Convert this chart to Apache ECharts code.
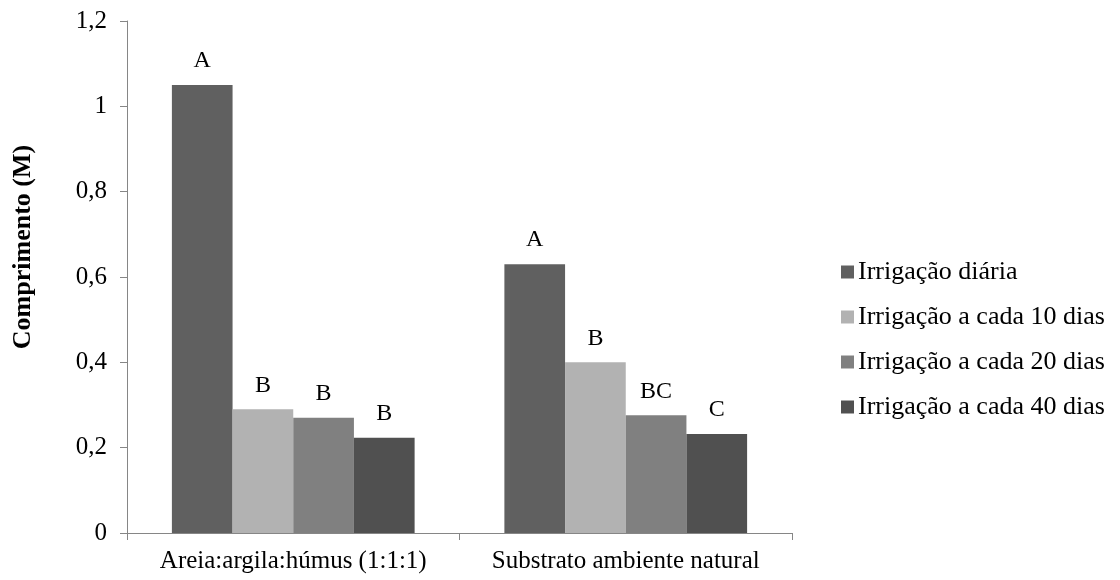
<!DOCTYPE html>
<html><head><meta charset="utf-8">
<script src="https://cdn.jsdelivr.net/npm/echarts@6/dist/echarts.min.js"></script>
<style>html,body{margin:0;padding:0;background:#fff}#c{width:1120px;height:580px}</style>
</head><body><div id="c"></div>
<script>
const categories = ['Areia:argila:húmus (1:1:1)', 'Substrato ambiente natural'];
const seriesNames = ['Irrigação diária', 'Irrigação a cada 10 dias', 'Irrigação a cada 20 dias', 'Irrigação a cada 40 dias'];
const diaria = [1.05, 0.63];
const cada10 = [0.29, 0.40];
const cada20 = [0.27, 0.276];
const cada40 = [0.223, 0.232];
const letters = [['A', 'A'], ['B', 'B'], ['B', 'BC'], ['B', 'C']];
const colors = ['#606060', '#b2b2b2', '#808080', '#505050'];
const yTicks = [0, 0.2, 0.4, 0.6, 0.8, 1, 1.2];

const values = [diaria, cada10, cada20, cada40];
const font = '"Liberation Serif", "Times New Roman", serif';
const chart = echarts.init(document.getElementById('c'));
chart.setOption({
  animation: false,
  textStyle: { fontFamily: font },
  grid: { left: 127, right: 328, top: 21, bottom: 47 },
  legend: {
    orient: 'vertical', left: 841, top: 259, itemGap: 19, padding: 0,
    itemWidth: 13, itemHeight: 13, icon: 'rect',
    textStyle: { fontFamily: font, fontSize: 26, lineHeight: 26, color: '#000', padding: [0, 0, 0, -1] },
    data: seriesNames
  },
  xAxis: {
    type: 'category', data: categories,
    axisLine: { lineStyle: { color: '#868686', width: 1 } },
    axisTick: { show: true, length: 7, lineStyle: { color: '#868686' } },
    axisLabel: { fontFamily: font, fontSize: 25, color: '#000', margin: 16, interval: 0 }
  },
  yAxis: {
    type: 'value', min: 0, max: 1.2, interval: 0.2,
    name: 'Comprimento (M)', nameLocation: 'middle', nameGap: 91,
    nameTextStyle: { fontFamily: font, fontSize: 26, fontWeight: 'bold', color: '#000', padding: [0, 0, 0, 60] },
    axisLine: { show: true, lineStyle: { color: '#868686', width: 1 } },
    axisTick: { show: true, length: 7, inside: false, lineStyle: { color: '#868686' } },
    splitLine: { show: false },
    axisLabel: {
      fontFamily: font, fontSize: 25, color: '#000', margin: 20,
      formatter: v => String(Math.round(v * 10) / 10).replace('.', ',')
    }
  },
  series: seriesNames.map((n, i) => ({
    name: n, type: 'bar', barGap: '0%', barCategoryGap: '27%',
    itemStyle: { color: colors[i] },
    label: {
      show: true, position: 'top', distance: 12,
      fontFamily: font, fontSize: 24, color: '#000',
      formatter: p => letters[i][p.dataIndex]
    },
    data: values[i]
  }))
});
</script></body></html>
